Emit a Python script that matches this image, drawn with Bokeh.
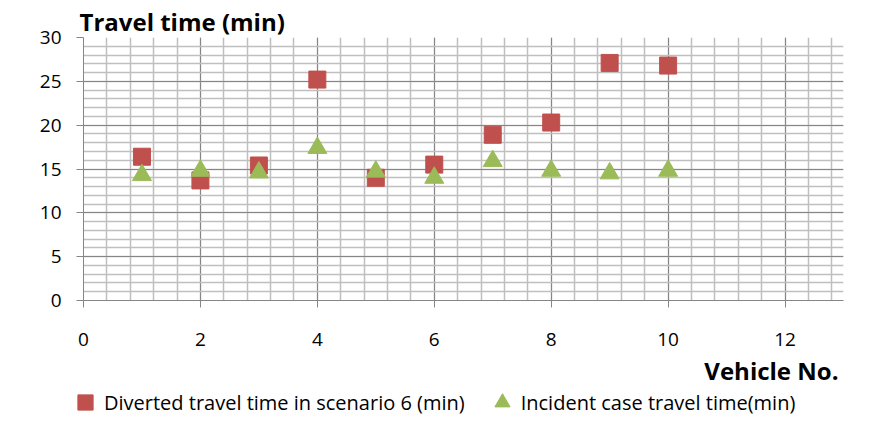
from bokeh.plotting import figure
from bokeh.layouts import column
from bokeh.models import FixedTicker, Label, Legend, LegendItem, ColumnDataSource
from bokeh.embed import file_html
from bokeh.resources import INLINE

vehicle = [1, 2, 3, 4, 5, 6, 7, 8, 9, 10]
diverted = [16.4, 13.7, 15.4, 25.2, 14.0, 15.5, 18.9, 20.3, 27.1, 26.8]
incident = [14.3, 14.8, 14.6, 17.4, 14.7, 14.0, 15.9, 14.8, 14.5, 14.8]

x_ticks = [0, 2, 4, 6, 8, 10, 12]
x_minor = [round(0.4 * i, 1) for i in range(33)]
y_ticks = [0, 5, 10, 15, 20, 25, 30]
y_minor = list(range(0, 31))

FONT = "Open Sans"
RED = "#C0504D"
GREEN = "#9BBB59"

p = figure(width=877, height=360, x_range=(0, 13), y_range=(0, 30),
           output_backend="svg", toolbar_location=None,
           min_border_left=83, min_border_right=34, min_border_top=37, min_border_bottom=60)
p.outline_line_color = None

p.title.text = "Travel time (min)"
p.title.align = "left"
p.title.offset = -4
p.title.standoff = 0
p.title.text_font = FONT
p.title.text_font_style = "bold"
p.title.text_font_size = "24px"
p.title.text_color = "black"

# grids
p.xgrid.ticker = FixedTicker(ticks=x_ticks, minor_ticks=x_minor)
p.ygrid.ticker = FixedTicker(ticks=y_ticks, minor_ticks=y_minor)
for g in (p.xgrid, p.ygrid):
    g.grid_line_color = "#868686"
    g.grid_line_width = 1
    g.minor_grid_line_color = "#bfbfbf"
    g.minor_grid_line_width = 1.5

# axes
p.xaxis.ticker = FixedTicker(ticks=x_ticks, minor_ticks=[])
p.yaxis.ticker = FixedTicker(ticks=y_ticks, minor_ticks=[])
for ax in (p.xaxis, p.yaxis):
    ax.axis_line_color = "#868686"
    ax.major_tick_line_color = "#868686"
    ax.major_tick_in = 0
    ax.major_tick_out = 7
    ax.minor_tick_line_color = None
    ax.major_label_text_font = FONT
    ax.major_label_text_font_size = "19px"
    ax.major_label_text_color = "black"
p.xaxis.major_label_standoff = 25
p.yaxis.major_label_standoff = 15

src = ColumnDataSource(dict(x=vehicle, d=diverted, i=incident))
p.scatter("x", "d", source=src, marker="square", size=17,
          fill_color=RED, line_color=RED)
p.scatter("x", "i", source=src, marker="triangle", size=19,
          fill_color=GREEN, line_color=GREEN)

# lower strip: axis title and legend
q = figure(width=877, height=74, x_range=(0, 1), y_range=(0, 1),
           output_backend="svg", toolbar_location=None,
           x_axis_location=None, y_axis_location=None,
           min_border_left=0, min_border_right=0, min_border_top=0, min_border_bottom=0)
q.outline_line_color = None
q.grid.visible = False

shift = 83
if "frame_align" in q.properties():
    q.frame_align = False
    p.frame_align = False
    shift = 0

q1 = q.scatter("x", "d", source=src, marker="square", size=17,
               fill_color=RED, line_color=RED)
q2 = q.scatter("x", "i", source=src, marker="triangle", size=19,
               fill_color=GREEN, line_color=GREEN)

q.add_layout(Label(x=838 - shift, y=64, x_units="screen", y_units="screen", text="Vehicle No.",
                   text_font=FONT, text_font_style="bold", text_font_size="24px",
                   text_color="black", text_align="right", text_baseline="middle"))

legend = Legend(items=[
    LegendItem(label="Diverted travel time in scenario 6 (min)", renderers=[q1]),
    LegendItem(label="Incident case travel time(min)", renderers=[q2]),
], location=(max(66 - shift, -11), 13), orientation="horizontal")
legend.label_text_font = FONT
legend.label_text_font_size = "20px"
legend.label_text_color = "black"
legend.glyph_width = 38
legend.glyph_height = 38
legend.label_standoff = 0
legend.spacing = 18
legend.padding = 0
legend.margin = 0
legend.border_line_color = None
legend.background_fill_alpha = 0
q.add_layout(legend)

layout = column(p, q, spacing=0)
open("out.html", "w").write(file_html(layout, INLINE))
